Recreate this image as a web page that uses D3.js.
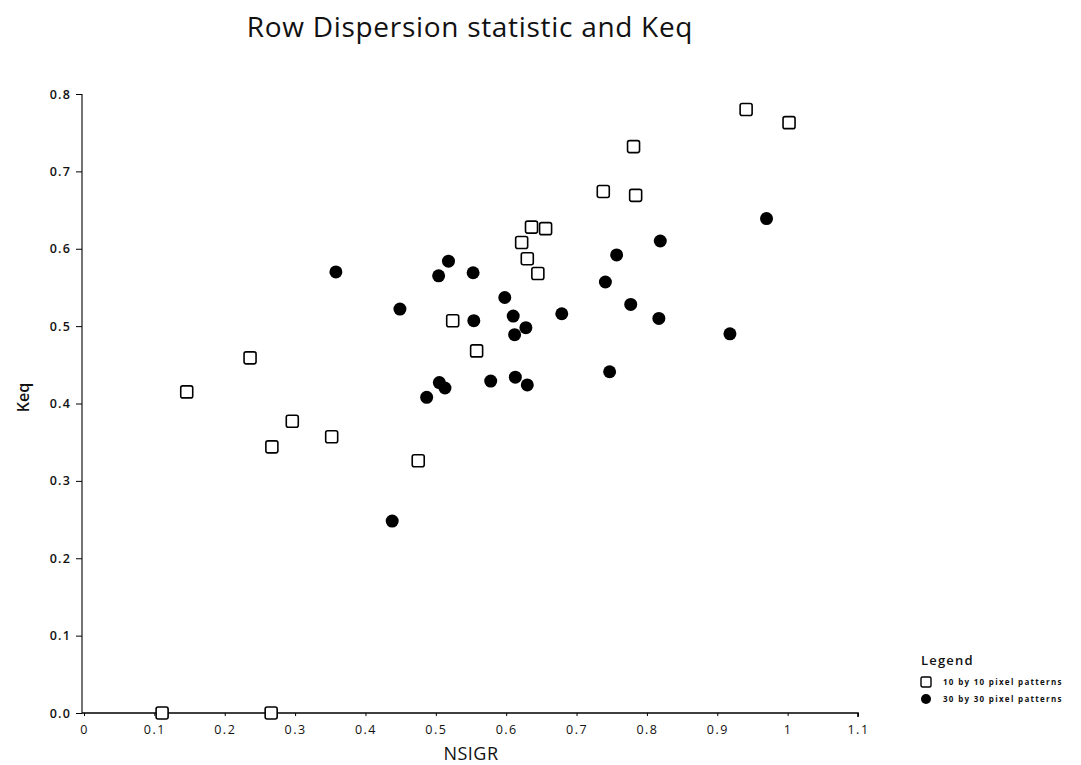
<!DOCTYPE html>
<html>
<head>
<meta charset="utf-8">
<script src="https://cdn.jsdelivr.net/npm/d3@7"></script>
<style>
  html, body { margin: 0; padding: 0; background: #fff; }
  svg { display: block; }
  text { font-family: "Open Sans", "DejaVu Sans", sans-serif; fill: #111; }
</style>
</head>
<body>
<svg id="chart" width="1081" height="765"></svg>
<script>
// NSIGR (row dispersion) vs Keq for the two pattern sizes
const smallX = [0.146, 0.236, 0.296, 0.267, 0.352, 0.475, 0.524, 0.558,
                0.941, 1.002, 0.781, 0.738, 0.784, 0.636, 0.656, 0.622, 0.630, 0.645,
                0.111, 0.266];
const smallY = [0.415, 0.459, 0.377, 0.344, 0.357, 0.326, 0.507, 0.468,
                0.780, 0.763, 0.732, 0.674, 0.669, 0.628, 0.626, 0.608, 0.587, 0.568,
                0.000, 0.000];

const largeX = [0.358, 0.518, 0.504, 0.553, 0.449, 0.554, 0.505, 0.513, 0.487, 0.578, 0.438,
                0.970, 0.819, 0.757, 0.741, 0.598, 0.610, 0.628, 0.612, 0.679, 0.777,
                0.817, 0.918, 0.747, 0.613, 0.630];
const largeY = [0.570, 0.584, 0.565, 0.569, 0.522, 0.507, 0.427, 0.420, 0.408, 0.429, 0.248,
                0.639, 0.610, 0.592, 0.557, 0.537, 0.513, 0.498, 0.489, 0.516, 0.528,
                0.510, 0.490, 0.441, 0.434, 0.424];

const xTicks = [0, 0.1, 0.2, 0.3, 0.4, 0.5, 0.6, 0.7, 0.8, 0.9, 1, 1.1];
const yTicks = [0, 0.1, 0.2, 0.3, 0.4, 0.5, 0.6, 0.7, 0.8];

const titleText = "Row Dispersion statistic and Keq";
const xTitle = "NSIGR";
const yTitle = "Keq";
const legendTitle = "Legend";
const seriesNames = ["10 by 10 pixel patterns", "30 by 30 pixel patterns"];

const svg = d3.select("#chart");
const plot = { left: 84, right: 858, top: 94, bottom: 713 };

const x = d3.scaleLinear().domain([0, 1.1]).range([plot.left, plot.right]);
const y = d3.scaleLinear().domain([0, 0.8]).range([plot.bottom, plot.top]);

// title
svg.append("text")
  .attr("x", 470).attr("y", 37)
  .attr("text-anchor", "middle")
  .style("font-size", "28px")
  .style("letter-spacing", "0.7px")
  .text(titleText);

// axes
const xAxis = d3.axisBottom(x)
  .tickValues(xTicks)
  .tickSize(3)
  .tickPadding(9)
  .tickFormat(d => (d === 0 || d === 1) ? String(d) : d3.format(".1f")(d));
svg.append("g")
  .attr("class", "x-axis")
  .attr("transform", `translate(0,${plot.bottom})`)
  .call(xAxis)
  .call(g => g.select(".domain").attr("d", `M${plot.left - 2},0H${plot.right}V4`).attr("stroke-width", 1.6))
  .call(g => g.selectAll("text")
    .style("font-size", "12.5px")
    .style("letter-spacing", "1.5px")
    .style("font-family", "\"Open Sans\", sans-serif"));

const yAxis = d3.axisLeft(y)
  .tickValues(yTicks)
  .tickSize(6)
  .tickPadding(5)
  .tickFormat(d3.format(".1f"));
svg.append("g")
  .attr("class", "y-axis")
  .attr("transform", `translate(${plot.left - 2},0)`)
  .call(yAxis)
  .call(g => g.select(".domain").attr("d", `M0,${plot.top}V${plot.bottom}`).attr("stroke-width", 1.1))
  .call(g => g.selectAll("text")
    .style("font-size", "12.5px")
    .style("font-weight", "600")
    .style("letter-spacing", "1.2px")
    .style("font-family", "\"Open Sans\", sans-serif"));

// axis titles
svg.append("text")
  .attr("x", x(0.55)).attr("y", 760)
  .attr("text-anchor", "middle")
  .style("font-size", "18px")
  .style("letter-spacing", "0.5px")
  .text(xTitle);

svg.append("text")
  .attr("transform", `translate(29,${y(0.4) - 6}) rotate(-90)`)
  .attr("text-anchor", "middle")
  .style("font-size", "16px")
  .style("font-weight", "600")
  .text(yTitle);

// markers
const side = 12;
const small = smallX.map((v, i) => ({ x: v, y: smallY[i] }));
const large = largeX.map((v, i) => ({ x: v, y: largeY[i] }));

svg.append("g").selectAll("circle")
  .data(large)
  .join("circle")
  .attr("cx", d => x(d.x))
  .attr("cy", d => y(d.y))
  .attr("r", 6.5)
  .attr("fill", "#000");

svg.append("g").selectAll("rect")
  .data(small)
  .join("rect")
  .attr("x", d => x(d.x) - side / 2)
  .attr("y", d => y(d.y) - side / 2)
  .attr("width", side)
  .attr("height", side)
  .attr("rx", 2)
  .attr("fill", "#fff")
  .attr("stroke", "#000")
  .attr("stroke-width", 1.6);

// legend
const lg = svg.append("g").attr("transform", "translate(921,0)");
lg.append("text")
  .attr("x", 0).attr("y", 665)
  .style("font-size", "13px")
  .style("font-weight", "600")
  .style("letter-spacing", "1.2px")
  .text(legendTitle);
lg.append("rect")
  .attr("x", 0).attr("y", 677).attr("width", 10).attr("height", 10).attr("rx", 1.5)
  .attr("fill", "#fff").attr("stroke", "#000").attr("stroke-width", 1.4);
lg.append("circle")
  .attr("cx", 5).attr("cy", 699).attr("r", 5).attr("fill", "#000");
lg.selectAll("text.item")
  .data(seriesNames)
  .join("text")
  .attr("class", "item")
  .attr("x", 22)
  .attr("y", (d, i) => 685 + i * 17)
  .style("font-size", "8px")
  .style("font-weight", "700")
  .style("letter-spacing", "1.3px")
  .text(d => d);
</script>
</body>
</html>
